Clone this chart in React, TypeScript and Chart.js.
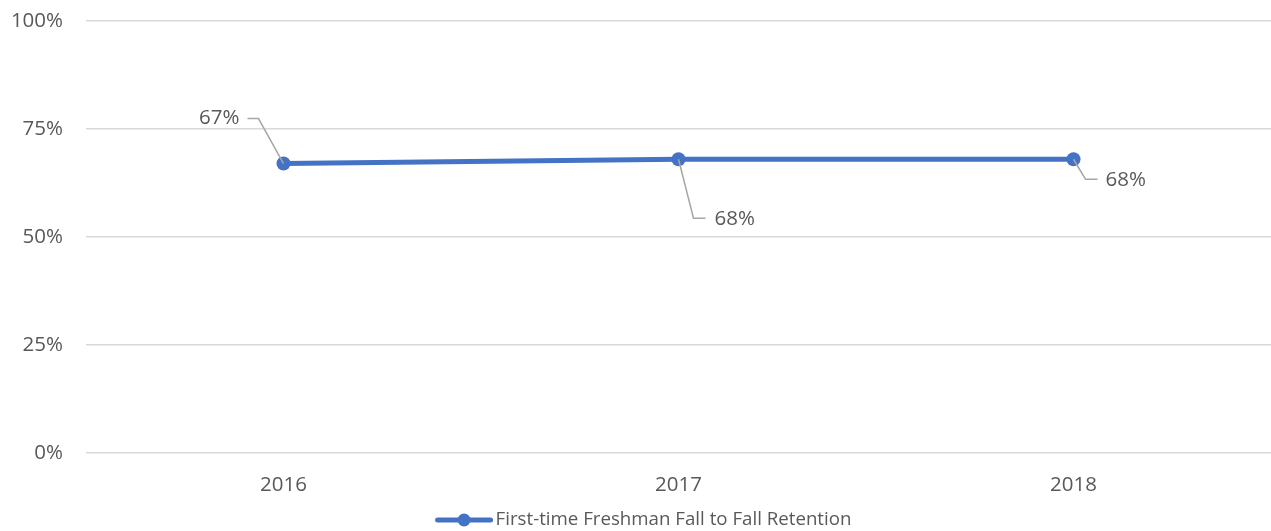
import React, { useEffect, useRef } from "react";
import { Chart, registerables } from "chart.js";

Chart.register(...registerables);

const categories = ["2016", "2017", "2018"];
const retention = [0.67, 0.68, 0.68];
const yTicks = [0, 0.25, 0.5, 0.75, 1];
const seriesName = "First-time Freshman Fall to Fall Retention";

const BLUE = "#4472C4";
const TEXT = "#595959";
const FONT = "'Open Sans', 'Liberation Sans', sans-serif";

// leader-line label layout per point: [bendDx, bendDy, endDx, textDx, textDy, align]
const labelLayout: [number, number, number, number, number, CanvasTextAlign][] = [
  [-25, -45, -36, -44, -45, "right"],
  [15, 59, 27, 36, 60, "left"],
  [12, 20, 24, 32, 21, "left"],
];

const leaderPlugin = {
  id: "leaderLabels",
  afterDatasetsDraw(chart: any) {
    const meta = chart.getDatasetMeta(0);
    const ctx = chart.ctx;
    ctx.save();
    meta.data.forEach((pt: any, i: number) => {
      const [bx, by, ex, tx, ty, align] = labelLayout[i];
      const px = pt.x;
      const py = pt.y;
      ctx.strokeStyle = "#A6A6A6";
      ctx.lineWidth = 1.5;
      ctx.beginPath();
      ctx.moveTo(px, py);
      ctx.lineTo(px + bx, py + by);
      ctx.lineTo(px + ex, py + by);
      ctx.stroke();
      ctx.fillStyle = TEXT;
      ctx.font = `20.5px ${FONT}`;
      ctx.textAlign = align;
      ctx.textBaseline = "middle";
      ctx.fillText(Math.round(retention[i] * 100) + "%", px + tx, py + ty);
    });
    ctx.restore();
  },
};

const legendPlugin = {
  id: "customLegend",
  afterDraw(chart: any) {
    const ctx = chart.ctx;
    const ds = chart.data.datasets[0];
    ctx.save();
    ctx.font = `18.7px ${FONT}`;
    const textW = ctx.measureText(ds.label).width;
    const sampleW = 57;
    const gap = 3;
    const total = sampleW + gap + textW;
    const x0 = chart.width / 2 + 8 - total / 2;
    const cy = 520;
    ctx.strokeStyle = ds.borderColor;
    ctx.lineWidth = 5;
    ctx.lineCap = "round";
    ctx.beginPath();
    ctx.moveTo(x0 + 2, cy);
    ctx.lineTo(x0 + sampleW - 2, cy);
    ctx.stroke();
    ctx.fillStyle = ds.borderColor;
    ctx.beginPath();
    ctx.arc(x0 + sampleW / 2, cy, 6.5, 0, Math.PI * 2);
    ctx.fill();
    ctx.fillStyle = TEXT;
    ctx.textAlign = "left";
    ctx.textBaseline = "middle";
    ctx.fillText(ds.label, x0 + sampleW + gap, cy);
    ctx.restore();
  },
};

export default function App() {
  const ref = useRef<HTMLCanvasElement>(null);
  useEffect(() => {
    const chart = new Chart(ref.current!, {
      type: "line",
      data: {
        labels: categories,
        datasets: [
          {
            label: seriesName,
            data: retention,
            borderColor: BLUE,
            backgroundColor: BLUE,
            borderWidth: 5,
            pointRadius: 7,
            pointBackgroundColor: BLUE,
            pointBorderColor: BLUE,
            pointBorderWidth: 0,
            tension: 0,
          },
        ],
      },
      options: {
        animation: false,
        responsive: false,
        layout: { autoPadding: false, padding: { top: 21, left: 0, right: 0, bottom: 0 } },
        scales: {
          x: {
            offset: true,
            grid: { display: false, drawTicks: false },
            border: { display: false },
            ticks: { color: TEXT, font: { family: FONT, size: 20.5 }, padding: 20 },
            afterFit: (s: any) => {
              s.height = 78;
              s.paddingLeft = 0;
              s.paddingRight = 0;
            },
          },
          y: {
            min: 0,
            max: 1,
            afterBuildTicks: (s: any) => {
              s.ticks = yTicks.map((v) => ({ value: v }));
            },
            grid: { color: "#D9D9D9", lineWidth: 1.5, drawTicks: false },
            border: { display: false },
            ticks: {
              color: TEXT,
              font: { family: FONT, size: 20.5 },
              padding: 23,
              callback: (v: any) => Math.round(Number(v) * 100) + "%",
            },
            afterFit: (s: any) => {
              s.width = 86;
              s.paddingTop = 0;
              s.paddingBottom = 0;
            },
          },
        },
        plugins: {
          tooltip: { enabled: false },
          legend: { display: false },
        },
      },
      plugins: [leaderPlugin, legendPlugin],
    });
    return () => chart.destroy();
  }, []);
  return (
    <div style={{ position: "absolute", left: 0, top: 0, width: 1271, height: 531, background: "#fff" }}>
      <canvas ref={ref} width={1271} height={531} style={{ width: 1271, height: 531 }} />
    </div>
  );
}
